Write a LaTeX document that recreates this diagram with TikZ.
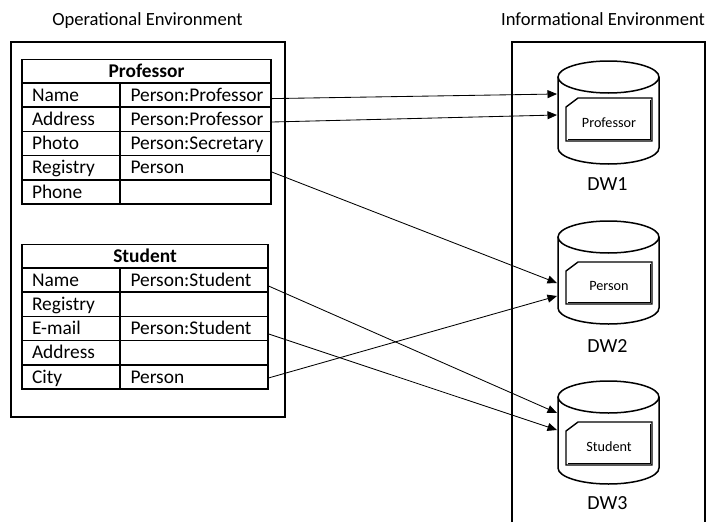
\documentclass[tikz,border=0pt]{standalone}
\usepackage{fontspec}
\setmainfont{Carlito}
\usetikzlibrary{arrows.meta}
\begin{document}
\begin{tikzpicture}[x=1pt,y=-1pt,
  every node/.style={font=\fontsize{19.4}{22}\selectfont},
  title/.style={font=\fontsize{18.6}{22}\selectfont, inner sep=0pt, text height=12pt, text depth=0pt},
  frame/.style={line width=1.8pt},
  hdr/.style={draw, line width=1.5pt, minimum height=23.5pt, inner sep=0pt,
    font=\fontsize{19.4}{22}\selectfont\bfseries, text height=12.5pt, text depth=0pt},
  lcell/.style={draw, line width=1.5pt, minimum height=24.2pt, text width=78pt, align=left,
    inner xsep=10pt, inner ysep=0pt, text height=12.5pt, text depth=0pt},
  rcell/.style={draw, line width=1.5pt, minimum height=24.2pt, text width=#1, align=left,
    inner xsep=10.5pt, inner ysep=0pt, text height=12.5pt, text depth=0pt},
  cyl/.style={line width=1.5pt},
  doc/.style={line width=1.4pt},
  doclabel/.style={font=\fontsize{14.2}{16}\selectfont, inner sep=0pt},
  dwlabel/.style={font=\fontsize{20}{22}\selectfont, inner sep=0pt, text height=13pt, text depth=0pt},
  conn/.style={line width=0.85pt, -{Triangle[length=9.5pt,width=8pt]}}
]
\useasboundingbox (0,0) rectangle (709,522);

% titles
\node[title] (t1) at (147.5,19.5) {Operational Environment};
\node[title] (t2) at (603,19.5) {Informational Environment};

% frames
\draw[frame] (11,42) rectangle (285,417);
\draw[frame] (512,522) -- (512,42) -- (705,42) -- (705,522);

% Professor table
\node[hdr, minimum width=249pt] (ph) at (146.5,71.25) {Professor};
\node[lcell] (p1l) at (71,95.1) {Name};
\node[rcell=130pt] (p1r) at (195.5,95.1) {Person:Professor};
\node[lcell] (p2l) at (71,119.3) {Address};
\node[rcell=130pt] (p2r) at (195.5,119.3) {Person:Professor};
\node[lcell] (p3l) at (71,143.5) {Photo};
\node[rcell=130pt] (p3r) at (195.5,143.5) {Person:Secretary};
\node[lcell] (p4l) at (71,167.7) {Registry};
\node[rcell=130pt] (p4r) at (195.5,167.7) {Person};
\node[lcell] (p5l) at (71,191.9) {Phone};
\node[rcell=130pt] (p5r) at (195.5,191.9) {};

% Student table
\node[hdr, minimum width=246pt] (sh) at (145,256.25) {Student};
\node[lcell] (s1l) at (71,280.1) {Name};
\node[rcell=127pt] (s1r) at (194,280.1) {Person:Student};
\node[lcell] (s2l) at (71,304.3) {Registry};
\node[rcell=127pt] (s2r) at (194,304.3) {};
\node[lcell] (s3l) at (71,328.5) {E-mail};
\node[rcell=127pt] (s3r) at (194,328.5) {Person:Student};
\node[lcell] (s4l) at (71,352.7) {Address};
\node[rcell=127pt] (s4r) at (194,352.7) {};
\node[lcell] (s5l) at (71,376.9) {City};
\node[rcell=127pt] (s5r) at (194,376.9) {Person};

% Cylinders
\foreach \ta/\tb/\bt/\bb/\nm/\lab/\ly in {
  77/148/98/141/Professor/DW1/184,
  237/308/262/304/Person/DW2/346,
  397/468/422/465/Student/DW3/503}{
  \draw[cyl] (608.5,\ta) ellipse [x radius=50.5pt, y radius=16pt];
  \draw[cyl] (558,\ta) -- (558,\tb) arc[start angle=180, end angle=360, x radius=50.5pt, y radius=16pt] -- (659,\ta);
  \draw[doc] (566,\bt+9) -- (578,\bt) -- (652,\bt) -- (652,\bb) -- (566,\bb) -- cycle;
  \draw[line width=1pt] (650,\bt+1.5) -- (650,\bb-1.5) -- (567.5,\bb-1.5);
  \node[doclabel] (in\lab) at (609,{(\bt+\bb)/2+3}) {\nm};
  \node[dwlabel] (\lab) at (607.5,\ly) {\lab};
}

% connector targets
\coordinate (a1) at (557,94);
\coordinate (a2) at (557,115);
\coordinate (b1) at (557,283);
\coordinate (b2) at (557,296);
\coordinate (c1) at (557,413);
\coordinate (c2) at (557,430);

% connectors
\draw[conn] ([yshift=-3.5pt]p1r.east) -- (a1);
\draw[conn] ([yshift=-2.7pt]p2r.east) -- (a2);
\draw[conn] ([yshift=-4.3pt]p4r.east) -- (b1);
\draw[conn] ([yshift=-1pt]s5r.east) -- (b2);
\draw[conn] ([yshift=-6pt]s1r.east) -- (c1);
\draw[conn] ([yshift=-5.5pt]s3r.east) -- (c2);
\end{tikzpicture}
\end{document}
